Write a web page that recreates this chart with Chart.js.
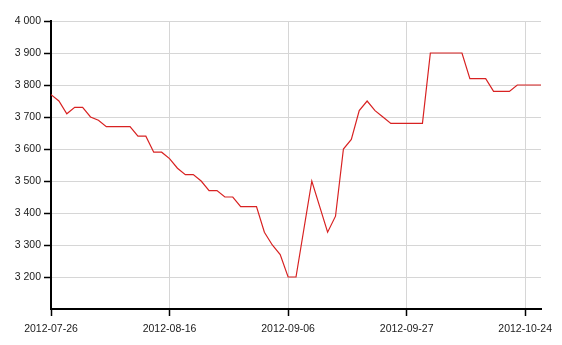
<!DOCTYPE html>
<html>
<head>
<meta charset="utf-8">
<script src="https://cdn.jsdelivr.net/npm/chart.js@4/dist/chart.umd.min.js"></script>
<style>
  html, body { margin: 0; padding: 0; background: #fff; }
  canvas { display: block; }
</style>
</head>
<body>
<canvas id="priceChart" width="562" height="345"></canvas>
<script>
// trading days, a label is shown every 15th day
const dates = [
    '2012-07-26', '2012-07-27', '2012-07-30', '2012-07-31', '2012-08-01', '2012-08-02', '2012-08-03',
    '2012-08-06', '2012-08-07', '2012-08-08', '2012-08-09', '2012-08-10',
    '2012-08-13', '2012-08-14', '2012-08-15', '2012-08-16', '2012-08-17',
    '2012-08-20', '2012-08-21', '2012-08-22', '2012-08-23', '2012-08-24',
    '2012-08-27', '2012-08-28', '2012-08-29', '2012-08-30', '2012-08-31',
    '2012-09-03', '2012-09-04', '2012-09-05', '2012-09-06', '2012-09-07',
    '2012-09-10', '2012-09-11', '2012-09-12', '2012-09-13', '2012-09-14',
    '2012-09-17', '2012-09-18', '2012-09-19', '2012-09-20', '2012-09-21',
    '2012-09-24', '2012-09-25', '2012-09-26', '2012-09-27', '2012-09-28', '2012-09-29',
    '2012-10-08', '2012-10-09', '2012-10-10', '2012-10-11', '2012-10-12',
    '2012-10-15', '2012-10-16', '2012-10-17', '2012-10-18', '2012-10-19',
    '2012-10-22', '2012-10-23', '2012-10-24', '2012-10-25', '2012-10-26'
];

const prices = [
    3770, 3750, 3710, 3730, 3730, 3700, 3690,
    3670, 3670, 3670, 3670, 3640,
    3640, 3590, 3590, 3570, 3540,
    3520, 3520, 3500, 3470, 3470,
    3450, 3450, 3420, 3420, 3420,
    3340, 3300, 3270, 3200, 3200,
    3350, 3500, 3420, 3340, 3390,
    3600, 3630, 3720, 3750, 3720,
    3700, 3680, 3680, 3680, 3680, 3680,
    3900, 3900, 3900, 3900, 3900,
    3820, 3820, 3820, 3780, 3780,
    3780, 3800, 3800, 3800, 3800
];

const labelEvery = 15;
const yMin = 3100;
const yMax = 4000;
const yStep = 100;

const gridColor = '#d6d6d6';
const axisColor = '#000';
const textColor = '#1a1a1a';

// "4000" -> "4 000"
function fmt(v) {
    return String(v).replace(/\B(?=(\d{3})+(?!\d))/g, ' ');
}

const ctx = document.getElementById('priceChart').getContext('2d');

new Chart(ctx, {
    type: 'line',
    data: {
        labels: dates,
        datasets: [{
            data: prices,
            borderColor: '#d82222',
            borderWidth: 1.2,
            pointRadius: 0,
            tension: 0,
            fill: false
        }]
    },
    options: {
        responsive: false,
        animation: false,
        layout: {
            padding: {top: 21, right: 21, left: 0, bottom: 0}
        },
        plugins: {
            legend: {display: false},
            tooltip: {enabled: false}
        },
        scales: {
            x: {
                offset: false,
                border: {display: true, color: axisColor, width: 2},
                grid: {
                    color: c => c.index % labelEvery === 0 ? gridColor : 'rgba(0,0,0,0)',
                    tickColor: c => c.index % labelEvery === 0 ? axisColor : 'rgba(0,0,0,0)',
                    tickLength: 7,
                    tickWidth: 1.5
                },
                ticks: {
                    autoSkip: false,
                    maxRotation: 0,
                    padding: 7,
                    color: textColor,
                    font: {family: 'Liberation Sans, Arial, sans-serif', size: 10.5},
                    callback: (value, index) => index % labelEvery === 0 ? dates[index] : ''
                },
                afterFit: axis => { axis.height = 36; }
            },
            y: {
                min: yMin,
                max: yMax,
                border: {display: true, color: axisColor, width: 2},
                grid: {
                    color: c => c.tick && c.tick.value === yMin ? 'rgba(0,0,0,0)' : gridColor,
                    tickColor: c => c.tick && c.tick.value === yMin ? 'rgba(0,0,0,0)' : axisColor,
                    tickLength: 7,
                    tickWidth: 1.5
                },
                ticks: {
                    stepSize: yStep,
                    padding: 3,
                    color: textColor,
                    font: {family: 'Liberation Sans, Arial, sans-serif', size: 10.5},
                    callback: value => value === yMin ? '' : fmt(value)
                },
                afterFit: axis => { axis.width = 51; }
            }
        }
    }
});
</script>
</body>
</html>
